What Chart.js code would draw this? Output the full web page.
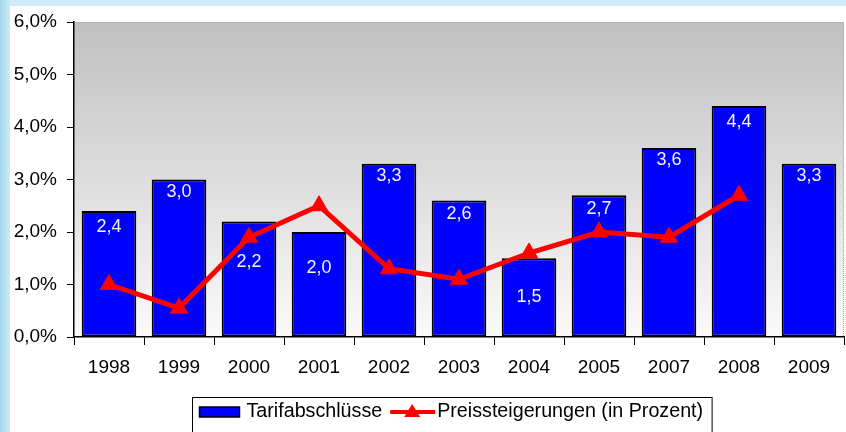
<!DOCTYPE html>
<html>
<head>
<meta charset="utf-8">
<script src="https://cdn.jsdelivr.net/npm/chart.js@4.4.0/dist/chart.umd.min.js"></script>
<style>
  html, body { margin: 0; padding: 0; }
  body {
    width: 846px; height: 432px; overflow: hidden;
    background: linear-gradient(to right, #a3d7ef 0px, #c6e7f6 8px, #d0ebf7 12px, #d0ebf7 100%);
  }
  #card { position: absolute; left: 10px; top: 6px; width: 836px; height: 426px; background: #fff; overflow: hidden; }
  canvas { display: block; }
</style>
</head>
<body>
<div id="card"><canvas id="chart" width="845" height="426"></canvas></div>
<script>
// Werte
var jahre = ['1998', '1999', '2000', '2001', '2002', '2003', '2004', '2005', '2007', '2008', '2009'];
var tarifabschluesse = [2.4, 3.0, 2.2, 2.0, 3.3, 2.6, 1.5, 2.7, 3.6, 4.4, 3.3];
var preissteigerungen = [1.0, 0.55, 1.9, 2.5, 1.3, 1.1, 1.6, 2.0, 1.9, 2.7, null];
var yTicks = [0, 1, 2, 3, 4, 5, 6];

// Abstand der Balkenbeschriftung unter der Oberkante (Pixel)
var labelOffset = [16, 13, 41, 36, 12, 14, 39, 14, 12, 16, 12];

var fontName = '"Liberation Sans", Arial, sans-serif';

function fmt(v) {
    return v.toFixed(1).replace('.', ',');
}

// Hintergrund der Zeichenfläche
var plotBackground = {
    id: 'plotBackground',
    beforeDraw: function (chart) {
        var c = chart.ctx, a = chart.chartArea;
        var g = c.createLinearGradient(0, a.top, 0, a.bottom);
        g.addColorStop(0, '#c0c0c0');
        g.addColorStop(1, '#fafafa');
        c.save();
        c.fillStyle = g;
        c.fillRect(a.left, a.top, a.right - a.left, a.bottom - a.top);
        c.strokeStyle = '#a8a8a8';
        c.lineWidth = 1;
        c.setLineDash([1, 1]);
        c.beginPath();
        c.moveTo(a.left, a.top + 0.5);
        c.lineTo(a.right - 0.5, a.top + 0.5);
        c.lineTo(a.right - 0.5, a.bottom);
        c.stroke();
        c.restore();
    }
};

// Werte in den Balken
var barLabels = {
    id: 'barLabels',
    afterDatasetsDraw: function (chart) {
        var c = chart.ctx;
        var meta = chart.getDatasetMeta(0);
        c.save();
        c.fillStyle = '#f4f4f4';
        c.font = '18px ' + fontName;
        c.textAlign = 'center';
        c.textBaseline = 'middle';
        meta.data.forEach(function (bar, i) {
            c.fillText(fmt(tarifabschluesse[i]), bar.x, bar.y + labelOffset[i]);
        });
        c.restore();
    }
};

// Legende mit Rahmen
var boxLegend = {
    id: 'boxLegend',
    afterDraw: function (chart) {
        var c = chart.ctx, a = chart.chartArea;
        var ds = chart.data.datasets;
        c.save();
        c.font = '19.7px ' + fontName;
        var w1 = c.measureText(ds[0].label).width;
        var w2 = c.measureText(ds[1].label).width;
        var total = 7 + 40 + 7 + w1 + 8 + 45 + 2 + w2 + 9;
        var x = Math.round((a.left + a.right) / 2 - total / 2) - 6.5;
        var y = 391.5;
        c.strokeStyle = '#000';
        c.lineWidth = 1;
        c.strokeRect(x, y, total, 50);
        var cy = 406;
        var px = x + 7;
        c.fillStyle = ds[0].backgroundColor;
        c.fillRect(px, cy - 5, 40, 10);
        c.lineWidth = 1.5;
        c.strokeRect(px, cy - 5, 40, 10);
        px += 47;
        c.fillStyle = '#000';
        c.textBaseline = 'middle';
        c.fillText(ds[0].label, px, cy);
        px += w1 + 8;
        c.strokeStyle = ds[1].borderColor;
        c.lineWidth = 4;
        c.beginPath();
        c.moveTo(px, cy);
        c.lineTo(px + 45, cy);
        c.stroke();
        c.fillStyle = ds[1].borderColor;
        c.beginPath();
        c.moveTo(px + 22, cy - 8);
        c.lineTo(px + 30, cy + 5);
        c.lineTo(px + 14, cy + 5);
        c.closePath();
        c.fill();
        px += 47;
        c.fillStyle = '#000';
        c.fillText(ds[1].label, px, cy);
        c.restore();
    }
};

var ctx = document.getElementById('chart').getContext('2d');
var chart = new Chart(ctx, {
    type: 'bar',
    data: {
        labels: jahre,
        datasets: [{
            type: 'bar',
            label: 'Tarifabschlüsse',
            data: tarifabschluesse,
            backgroundColor: '#0000ff',
            borderColor: '#000000',
            borderWidth: 2,
            borderSkipped: false,
            barPercentage: 0.78,
            categoryPercentage: 1.0,
            order: 2
        }, {
            type: 'line',
            label: 'Preissteigerungen (in Prozent)',
            data: preissteigerungen,
            borderColor: '#ff0000',
            backgroundColor: '#ff0000',
            borderWidth: 5,
            pointStyle: 'triangle',
            pointRadius: 10,
            pointHoverRadius: 10,
            pointBorderWidth: 1,
            tension: 0,
            order: 1
        }]
    },
    options: {
        responsive: false,
        animation: false,
        events: [],
        layout: { padding: { top: 16, right: 0, left: 0, bottom: 0 } },
        plugins: {
            legend: { display: false },
            tooltip: { enabled: false }
        },
        scales: {
            x: {
                offset: true,
                grid: {
                    offset: true,
                    drawOnChartArea: false,
                    drawTicks: true,
                    tickLength: 8,
                    color: '#000'
                },
                border: { color: '#000', width: 1.5 },
                ticks: {
                    color: '#000',
                    font: { family: fontName, size: 19 },
                    padding: 11
                },
                afterFit: function (scale) { scale.height = 95; }
            },
            y: {
                min: 0,
                max: 6,
                afterBuildTicks: function (scale) {
                    scale.ticks = yTicks.map(function (v) { return { value: v }; });
                },
                grid: {
                    drawOnChartArea: false,
                    drawTicks: true,
                    tickLength: 7,
                    color: '#000'
                },
                border: { color: '#000', width: 1.5 },
                ticks: {
                    color: '#000',
                    font: { family: fontName, size: 19 },
                    padding: 10,
                    callback: function (v) { return fmt(v) + '%'; }
                },
                afterFit: function (scale) {
                    scale.width = 64;
                    scale.paddingTop = 0;
                    scale.paddingBottom = 0;
                }
            }
        }
    },
    plugins: [plotBackground, barLabels, boxLegend]
});
</script>
</body>
</html>
